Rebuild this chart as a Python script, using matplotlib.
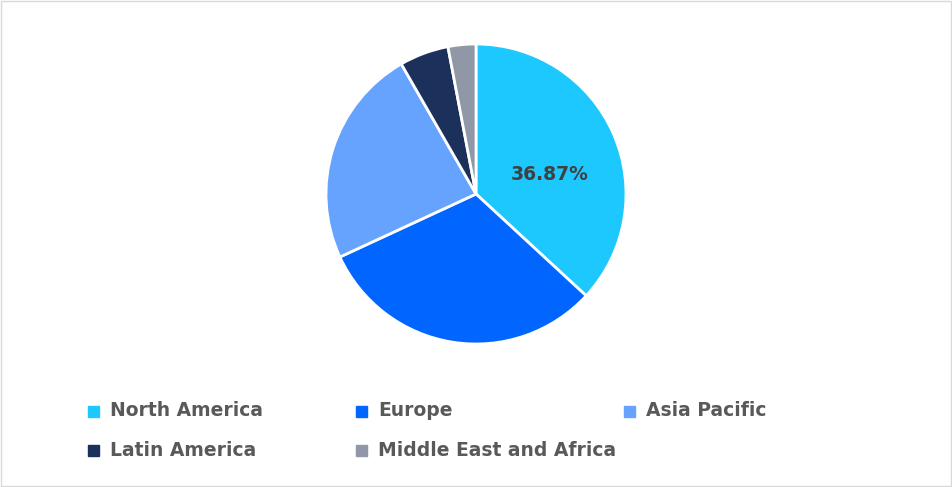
import matplotlib.pyplot as plt
from matplotlib.patches import Rectangle

labels = ["North America", "Europe", "Asia Pacific", "Latin America", "Middle East and Africa"]
values = [36.87, 31.23, 23.6, 5.3, 3.0]
colors = ["#1DC8FE", "#0066FF", "#66A3FF", "#1B305A", "#9097A6"]

fig = plt.figure(figsize=(9.53, 4.87), dpi=100)
fig.patches.append(Rectangle((0.001, 0.002), 0.997, 0.996, transform=fig.transFigure,
                             fill=False, edgecolor="#D9D9D9", lw=1))
R = 150
ax = fig.add_axes([(476 - R)/953, 1 - (194 + R)/487, 2*R/953, 2*R/487])
wedges, _ = ax.pie(values, colors=colors, startangle=90, counterclock=False,
                   wedgeprops=dict(edgecolor="white", linewidth=2))
ax.set_xlim(-1, 1)
ax.set_ylim(-1, 1)
ax.set_aspect("equal")
ax.text(0.49, 0.13, f"{values[0]:.2f}%", ha="center", va="center", fontsize=13.5,
        fontweight="bold", color="#404040")

pos = [(88, 411), (356, 411), (624, 411), (88, 450), (356, 450)]
for (x, y), lab, c in zip(pos, labels, colors):
    fig.patches.append(Rectangle((x/953, (487-y-6)/487), 11/953, 11/487,
                                 transform=fig.transFigure, color=c))
    fig.text((x+22)/953, (487-y)/487, lab, ha="left", va="center", fontsize=13.5,
             fontweight="bold", color="#595959")
fig.savefig("out.png", dpi=100)
